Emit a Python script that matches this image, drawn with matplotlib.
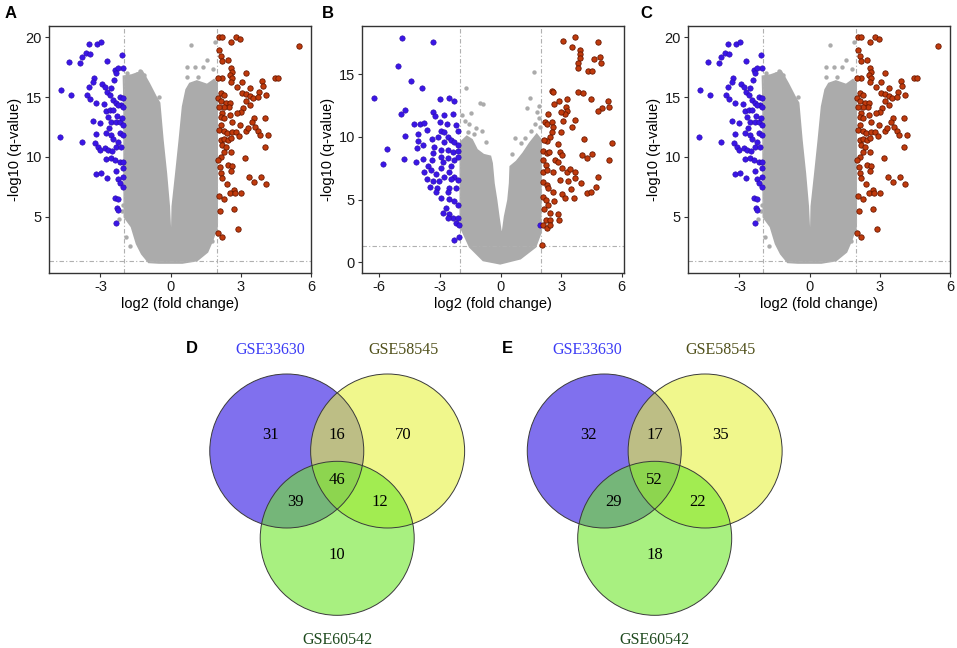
import matplotlib.pyplot as plt
import numpy as np
from matplotlib.patches import Circle, Polygon

plt.rcParams['font.family'] = ['Liberation Sans', 'DejaVu Sans']
plt.rcParams['axes.unicode_minus'] = False

# ---- volcano data, panels A and C (same data) ----
A_blue_x = [-3.48, -3.13, -2.96, -3.60, -3.45, -3.78, -4.34, -3.88, -2.72, -2.07, -2.05, -2.40,
            -2.25, -2.32, -2.42, -3.27, -3.31, -2.92, -2.81, -3.50, -2.54, -2.72, -4.70, -4.26,
            -3.57, -3.45, -3.21, -2.86, -2.61, -2.47, -2.32, -2.18, -2.04, -2.11, -2.25, -2.03,
            -2.75, -2.58, -2.47, -2.68, -2.54, -2.32, -2.18, -2.04, -3.31, -3.03, -2.28, -2.08,
            -2.64, -2.18, -2.04, -3.20, -2.75, -2.56, -4.74, -3.77, -3.24, -3.10, -3.03, -2.82,
            -2.68, -2.51, -2.32, -2.11, -2.25, -2.47, -2.75, -2.54, -2.40, -2.18, -2.04, -3.17,
            -2.96, -2.71, -2.32, -2.02, -2.03, -2.25, -2.18, -2.04, -2.40, -2.25, -2.30, -2.25,
            -2.32]
A_blue_y = [19.42, 19.42, 19.61, 18.64, 18.56, 18.36, 17.94, 17.86, 18.00, 18.50, 17.44, 17.25,
            17.39, 16.97, 16.42, 16.56, 16.22, 16.08, 15.86, 15.81, 15.72, 15.44, 15.58, 15.17,
            15.17, 14.83, 14.47, 14.39, 15.17, 14.75, 14.47, 15.03, 14.89, 14.33, 14.33, 14.19,
            13.83, 13.92, 13.92, 13.36, 12.94, 12.94, 12.94, 12.67, 13.03, 12.81, 13.44, 13.22,
            12.39, 11.97, 11.83, 11.89, 11.97, 11.83, 11.69, 11.28, 11.14, 10.86, 10.58, 10.78,
            10.58, 10.50, 10.86, 10.86, 11.28, 11.50, 9.81, 9.94, 9.75, 9.61, 9.61, 8.56,
            8.69, 8.28, 8.86, 9.06, 8.36, 8.14, 7.86, 7.53, 6.56, 6.47, 5.78, 5.58,
            4.47]
A_red_x = [2.07, 2.21, 2.59, 2.81, 2.95, 5.47, 2.07, 2.17, 2.21, 2.47, 2.56, 2.61, 2.54, 2.64,
           2.56, 2.21, 2.04, 3.20, 3.91, 3.95, 4.47, 4.57, 3.06, 2.85, 3.41, 3.03, 3.20, 3.38,
           3.53, 3.77, 3.72, 4.09, 2.14, 2.28, 2.04, 2.17, 2.35, 2.54, 2.49, 2.28, 2.07, 3.24,
           3.41, 3.10, 3.02, 2.85, 2.21, 2.14, 2.28, 2.64, 2.54, 3.55, 3.48, 4.05, 2.96, 3.24,
           3.30, 3.62, 3.72, 3.81, 4.15, 2.14, 2.07, 2.28, 2.40, 2.64, 2.78, 2.92, 2.14, 2.28,
           2.47, 2.59, 2.21, 2.35, 2.56, 2.28, 2.14, 2.04, 4.05, 3.16, 2.47, 2.61, 2.56, 2.11,
           2.14, 2.21, 2.42, 3.37, 3.55, 3.88, 4.08, 2.71, 2.54, 2.73, 3.02, 2.07, 2.28, 2.71,
           2.11, 2.88, 2.04, 2.21]
A_red_y = [19.97, 19.97, 19.61, 19.97, 19.81, 19.28, 18.92, 18.42, 18.00, 18.08, 17.39, 17.11,
           16.83, 16.56, 16.22, 16.61, 16.61, 16.97, 16.33, 15.92, 16.61, 16.61, 16.22, 15.81,
           15.78, 15.36, 15.25, 15.11, 14.94, 15.39, 15.03, 15.17, 15.31, 15.17, 14.94, 14.67,
           14.47, 14.53, 14.19, 14.19, 14.19, 14.67, 14.33, 14.11, 13.72, 13.64, 13.64, 13.36,
           13.22, 12.94, 13.50, 13.22, 12.89, 13.28, 12.67, 12.17, 12.44, 12.53, 12.17, 11.83,
           11.83, 12.67, 12.25, 12.17, 11.97, 12.06, 12.11, 11.78, 11.42, 11.50, 11.42, 11.61,
           11.00, 10.86, 10.44, 10.44, 10.03, 9.75, 10.86, 9.89, 9.33, 9.25, 8.83, 9.19,
           8.64, 8.22, 7.72, 8.36, 7.94, 8.36, 7.72, 7.25, 7.03, 6.97, 7.03, 6.78, 6.50, 5.67,
           5.53, 3.97, 3.64, 3.36]
A_gray_x = [0.86, 1.55, 0.70, 1.05, 1.40, 1.80, 0.72, 1.15, 1.90, -1.30, -1.15, -1.60, -1.05,
            -0.50, -0.75, -2.10, -2.20, -2.05, -1.90, -1.75, 1.90, 1.75, 1.85, -1.85, -1.45]
A_gray_y = [19.30, 18.10, 17.50, 17.50, 17.50, 17.30, 16.70, 16.70, 19.60, 17.20, 16.80, 16.55,
            15.90, 15.00, 14.90, 5.50, 4.80, 6.00, 3.30, 2.60, 4.00, 3.00, 5.00, 17.00, 16.95]
A_cloud_x = [-0.93, -1.22, -1.44, -1.66, -1.96, -1.97, -1.97, -1.97, -2.00, -1.66, -1.22, -0.93,
             -0.64, -0.49, -0.35, -0.20, -0.08, -0.01, 0.06, 0.09, 0.24, 0.39, 0.53, 0.68,
             0.83, 1.12, 1.56, 1.85, 1.97, 1.97, 1.97, 1.78, 1.56, 1.12, 0.50, -0.50]
A_cloud_y = [1.25, 1.94, 2.78, 4.20, 5.00, 8.00, 12.00, 14.50, 16.70, 16.80, 17.10, 16.10,
             15.00, 14.50, 11.40, 8.60, 5.90, 3.10, 3.10, 5.90, 8.60, 11.40, 14.20, 15.60,
             16.10, 16.30, 16.00, 16.40, 16.10, 10.00, 4.20, 3.10, 2.10, 1.40, 1.20, 1.20]

# ---- volcano data, panel B ----
B_blue_x = [-4.88, -3.33, -5.06, -4.43, -3.90, -6.25, -2.98, -2.53, -2.32, -4.73, -4.93, -3.36,
            -3.24, -2.78, -2.37, -4.30, -3.99, -3.77, -2.98, -2.65, -2.20, -3.64, -2.95, -2.78,
            -2.12, -4.10, -2.61, -4.71, -3.11, -3.39, -4.07, -3.85, -4.13, -2.78, -2.45, -2.29,
            -2.12, -3.28, -2.95, -2.61, -2.37, -2.12, -5.64, -3.36, -2.95, -4.79, -5.83, -4.18,
            -3.82, -3.41, -2.61, -2.29, -2.12, -2.86, -2.45, -3.61, -3.77, -3.44, -2.95, -2.53,
            -2.29, -2.12, -3.19, -2.78, -2.45, -3.64, -3.36, -3.06, -3.47, -3.14, -2.53, -2.20,
            -2.61, -2.95, -2.53, -2.29, -2.12, -3.19, -2.70, -2.83, -2.53, -2.37, -2.12, -2.61,
            -2.20, -2.07, -2.07, -2.32, 1.97]
B_blue_y = [17.90, 17.53, 15.64, 14.47, 13.86, 13.07, 12.99, 13.12, 12.85, 12.14, 11.79, 12.00,
            11.68, 11.74, 11.79, 11.00, 11.00, 11.13, 11.20, 11.00, 10.94, 10.54, 10.46, 10.36,
            10.46, 10.20, 10.00, 10.06, 10.00, 9.83, 9.67, 9.35, 9.13, 9.56, 9.75, 9.61,
            9.35, 9.21, 8.95, 8.95, 8.76, 8.87, 9.00, 8.69, 8.42, 8.23, 7.81, 8.02,
            8.23, 8.15, 8.29, 8.15, 8.42, 7.97, 7.70, 7.70, 7.22, 7.35, 7.49, 7.22,
            6.82, 6.56, 7.01, 6.82, 6.64, 6.64, 6.48, 6.48, 6.03, 5.90, 5.95, 5.90,
            5.63, 5.10, 5.05, 4.89, 4.57, 5.63, 4.30, 3.90, 3.82, 3.55, 3.50, 3.50,
            3.11, 2.97, 2.04, 1.78, 3.00]
B_red_x = [3.11, 3.69, 3.52, 4.81, 3.94, 3.94, 3.94, 3.85, 3.82, 4.35, 4.51, 4.64, 4.93, 4.98,
           2.53, 2.61, 3.82, 4.10, 4.48, 5.34, 5.37, 5.04, 4.81, 3.28, 2.90, 2.66, 3.23, 3.28,
           3.19, 3.00, 2.34, 2.20, 2.29, 2.57, 3.69, 2.61, 3.11, 3.52, 3.00, 2.57, 2.45, 2.29,
           2.17, 2.86, 4.15, 5.50, 2.12, 2.29, 2.42, 2.95, 3.03, 2.70, 2.86, 4.05, 4.27, 4.51,
           5.37, 2.12, 2.24, 2.12, 2.29, 2.61, 3.03, 3.28, 3.44, 3.69, 2.95, 3.33, 3.69, 3.99,
           4.81, 2.12, 2.29, 2.37, 2.61, 3.03, 3.19, 3.65, 4.27, 4.48, 4.71, 3.49, 2.12, 2.24,
           2.37, 2.66, 2.17, 2.45, 2.86, 2.24, 2.45, 2.12, 2.29, 2.45, 2.90, 2.07]
B_red_y = [17.66, 17.93, 17.18, 17.53, 16.92, 16.57, 16.25, 15.86, 15.51, 15.27, 15.27, 16.18,
           16.34, 15.86, 13.67, 13.60, 13.60, 13.46, 12.99, 12.85, 12.40, 12.27, 12.06, 13.01,
           12.85, 12.59, 12.40, 12.06, 11.79, 11.95, 11.79, 11.20, 11.00, 11.20, 11.34, 10.81,
           11.26, 10.76, 10.41, 10.41, 10.01, 9.67, 9.75, 9.40, 9.80, 9.48, 8.87, 8.69,
           8.82, 8.76, 8.55, 8.15, 8.02, 8.55, 8.34, 8.61, 8.15, 8.15, 7.75, 7.22,
           7.35, 7.22, 7.49, 7.22, 7.43, 7.22, 6.56, 6.48, 6.69, 6.34, 6.82, 6.42,
           6.16, 5.90, 5.63, 5.42, 5.10, 5.15, 5.55, 5.58, 5.98, 5.84, 5.23, 4.96,
           4.57, 4.88, 4.25, 3.90, 3.82, 3.37, 3.37, 2.97, 2.71, 2.97, 3.37, 1.38]
B_gray_x = [-1.72, -1.01, -1.45, -1.90, -1.75, -1.55, -1.20, -0.90, -1.30, -0.86, 1.66, 1.46,
            1.88, 1.80, 1.90, 1.70, 1.50, 0.70, 1.00, 1.20, 1.95, 1.30, 0.55, -1.60, -0.70]
B_gray_y = [13.90, 12.70, 11.90, 11.70, 11.30, 11.00, 10.70, 10.50, 10.20, 12.60, 15.20, 13.10,
            12.45, 12.00, 11.50, 11.00, 10.50, 9.90, 9.50, 9.90, 10.80, 12.30, 8.60, 10.40, 9.60]
B_cloud_x = [-1.97, -1.97, -1.51, -0.85, -0.02, 0.97, 1.71, 1.96, 1.99, 1.79, 1.46, 1.13, 0.80,
             0.50, 0.47, 0.39, 0.22, 0.11, 0.06, 0.01, -0.11, -0.22, -0.35, -0.44, -0.52,
             -0.85, -1.18, -1.43, -1.67, -1.92]
B_cloud_y = [9.48, 2.84, 1.24, 0.18, -0.08, 0.32, 1.24, 2.31, 9.75, 10.15, 9.48, 8.68, 8.02,
             7.62, 6.29, 4.96, 3.63, 2.31, 2.04, 2.31, 3.63, 4.96, 6.29, 7.89, 8.42,
             8.55, 8.95, 9.75, 10.00, 9.62]

# ---- venn data ----
venn_sets = ['GSE33630', 'GSE58545', 'GSE60542']
# regions: 1 only, 1&2, 2 only, all, 1&3, 2&3, 3 only
D_counts = [31, 16, 70, 46, 39, 12, 10]
E_counts = [32, 17, 35, 52, 29, 22, 18]

GRAY = '#ABABAB'
BLUE = '#3A16E6'
BLUE_EDGE = '#2A0AA8'
RED = '#C03A0C'
RED_EDGE = '#6A1800'
LINE = '#B0B0B0'

FIG_W, FIG_H = 957, 648
fig = plt.figure(figsize=(9.57, 6.48), dpi=100)


def px_axes(l, t, r, b):
    return fig.add_axes([l / FIG_W, 1 - b / FIG_H, (r - l) / FIG_W, (b - t) / FIG_H])


def volcano(ax, cloud_x, cloud_y, gx, gy, bx, by, rx, ry, xlim, ylim, xticks, yticks):
    ax.add_patch(Polygon(np.column_stack([cloud_x, cloud_y]), closed=True,
                         fc=GRAY, ec=GRAY, lw=1.8, zorder=1))
    ax.scatter(gx, gy, s=10, c=GRAY, lw=0, zorder=2)
    for v in (-2, 2):
        ax.axvline(v, color=LINE, lw=0.8, ls=(0, (4, 2, 1, 2)), zorder=2.5)
    ax.axhline(1.3, color=LINE, lw=0.8, ls=(0, (4, 2, 1, 2)), zorder=2.5)
    ax.scatter(bx, by, s=15, c=BLUE, edgecolors=BLUE_EDGE, lw=0.4, zorder=3)
    ax.scatter(rx, ry, s=15, c=RED, edgecolors=RED_EDGE, lw=0.6, zorder=3)
    ax.set_xlim(*xlim)
    ax.set_ylim(*ylim)
    ax.set_xticks(xticks)
    ax.set_yticks(yticks)
    ax.tick_params(direction='out', length=3, width=0.8, color='#333333',
                   labelsize=10.5, labelcolor='#1a1a1a', pad=2)
    for sp in ax.spines.values():
        sp.set_color('#333333')
        sp.set_linewidth(1.0)
    ax.set_xlabel('log2 (fold change)', fontsize=10.5, labelpad=2)
    ax.set_ylabel('-log10 (q-value)', fontsize=10.5, labelpad=3)


axA = px_axes(49, 26, 311, 273)
volcano(axA, A_cloud_x, A_cloud_y, A_gray_x, A_gray_y, A_blue_x, A_blue_y, A_red_x, A_red_y,
        (-5.2, 5.9), (0.33, 20.92), [-3, 0, 3, 6], [5, 10, 15, 20])
axB = px_axes(362, 26, 624, 273)
volcano(axB, B_cloud_x, B_cloud_y, B_gray_x, B_gray_y, B_blue_x, B_blue_y, B_red_x, B_red_y,
        (-6.86, 6.11), (-0.85, 18.83), [-6, -3, 0, 3, 6], [0, 5, 10, 15])
axC = px_axes(688, 26, 950, 273)
volcano(axC, A_cloud_x, A_cloud_y, A_gray_x, A_gray_y, A_blue_x, A_blue_y, A_red_x, A_red_y,
        (-5.2, 5.9), (0.33, 20.92), [-3, 0, 3, 6], [5, 10, 15, 20])

for letter, xp in (('A', 5), ('B', 322), ('C', 640)):
    fig.text(xp / FIG_W, 1 - 13 / FIG_H, letter, fontsize=12, fontweight='bold', va='center')

# ---- venn diagrams ----
R_PX = 77.0
half_sep = 0.655
drop = 1.134
centers = [(-half_sep, 0.0), (half_sep, 0.0), (0.0, -drop)]
fills = ['#2B11E3', '#E6F33F', '#6EE62B']
label_colors = ['#3C3CF5', '#50501A', '#1E4A1E']
label_pos = [(-0.87, 1.31), (0.86, 1.31), (0.0, -2.45)]
count_pos = [(-0.86, 0.21), (0.0, 0.21), (0.86, 0.21), (0.0, -0.38),
             (-0.54, -0.66), (0.55, -0.66), (0.0, -1.35)]


def venn(cx_px, cy_px, counts, letter, letter_x):
    l, r, t, b = cx_px - 160, cx_px + 160, 330, 648
    ax = px_axes(l, t, r, b)
    ax.set_xlim((l - cx_px) / R_PX, (r - cx_px) / R_PX)
    ax.set_ylim((cy_px - b) / R_PX, (cy_px - t) / R_PX)
    ax.axis('off')
    for (x, y), fc in zip(centers, fills):
        ax.add_patch(Circle((x, y), 1.0, fc=fc, alpha=0.6, ec='none'))
    for (x, y) in centers:
        ax.add_patch(Circle((x, y), 1.0, fc='none', ec='#3a3a3a', lw=0.7))
    for (x, y), n in zip(count_pos, counts):
        ax.text(x, y, str(n), ha='center', va='center', fontsize=12,
                family='Liberation Serif', color='black')
    for (x, y), name, c in zip(label_pos, venn_sets, label_colors):
        ax.text(x, y, name, ha='center', va='center', fontsize=11.5,
                family='Liberation Serif', color=c)
    fig.text(letter_x / FIG_W, 1 - 348 / FIG_H, letter, fontsize=12,
             fontweight='bold', va='center')


venn(337.2, 451, D_counts, 'D', 186)
venn(654.7, 451, E_counts, 'E', 502)

fig.savefig('out.png', dpi=100)
